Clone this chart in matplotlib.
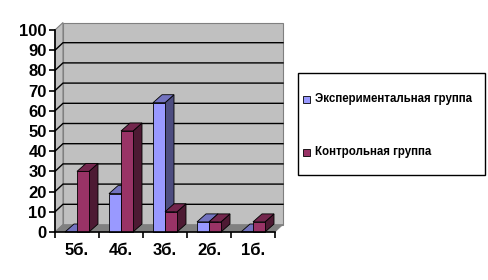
import matplotlib
matplotlib.use("Agg")
import matplotlib.pyplot as plt
from matplotlib.patches import Polygon, Rectangle

# данные
categories = ["5б.", "4б.", "3б.", "2б.", "1б."]
series_names = ["Экспериментальная группа", "Контрольная группа"]
exp_vals = [0, 19, 64, 5, 0]
ctrl_vals = [30, 50, 10, 5, 5]

front_cols = ["#9999FF", "#993366"]
top_cols = ["#7373BF", "#73264D"]
side_cols = ["#4D4D80", "#4D1A33"]

plt.rcParams['font.family'] = ['Liberation Sans', 'DejaVu Sans']

fig = plt.figure(figsize=(4.89, 2.80), dpi=100)
W, H = 489, 280
ax = fig.add_axes([55 / W, (280 - 232) / H, 220 / W, 202 / H])
ax.set_xlim(0, 5)
ax.set_ylim(0, 100)
ax.patch.set_alpha(0)

n = len(categories)
dx = 8 / 44      # глубина стенок
dy = 7.5 / 2.02
bdx = 9 / 44     # глубина столбиков
bdy = 8 / 2.02

# стенки
ax.add_patch(Polygon([(0, 0), (0, 100), (dx, 100 + dy), (dx, dy)], closed=True,
                     facecolor="#C0C0C0", edgecolor="#808080", lw=0.8, clip_on=False, zorder=0))
ax.add_patch(Rectangle((dx, dy), n, 100, facecolor="#C0C0C0", edgecolor="#808080",
                       lw=0.8, clip_on=False, zorder=0))
ax.add_patch(Polygon([(0, 0), (n, 0), (n + dx, dy), (dx, dy)], closed=True,
                     facecolor="#808080", edgecolor="#808080", lw=0.5, clip_on=False, zorder=0.5))
for v in range(10, 100, 10):
    ax.plot([0, dx, n + dx], [v, v + dy, v + dy], color="black", lw=1.0,
            clip_on=False, zorder=0.6)


def bar3d(x0, w, h, i):
    x1 = x0 + w
    ax.add_patch(Polygon([(x1, 0), (x1 + bdx, bdy), (x1 + bdx, h + bdy), (x1, h)],
                         closed=True, facecolor=side_cols[i], edgecolor="black", lw=0.6,
                         clip_on=False, zorder=2))
    ax.add_patch(Polygon([(x0, h), (x1, h), (x1 + bdx, h + bdy), (x0 + bdx, h + bdy)],
                         closed=True, facecolor=top_cols[i], edgecolor="black", lw=0.6,
                         clip_on=False, zorder=2))
    if h > 0:
        ax.add_patch(Rectangle((x0, 0), w, h, facecolor=front_cols[i], edgecolor="black",
                               lw=0.6, clip_on=False, zorder=2))


bw = 12 / 44
for k in range(n):
    bar3d(k + 10 / 44, bw, exp_vals[k], 0)
    bar3d(k + 10 / 44 + bw, bw, ctrl_vals[k], 1)

# оси
for s in ["top", "right"]:
    ax.spines[s].set_visible(False)
ax.spines["left"].set_zorder(3)
ax.spines["bottom"].set_zorder(3)
ax.spines["left"].set_linewidth(1.2)
ax.spines["bottom"].set_linewidth(1.2)
ax.set_yticks(range(0, 101, 10))
ax.tick_params(axis="y", direction="out", length=4, width=1.2, pad=2, labelsize=12)
ax.set_xticks(range(0, n + 1))
ax.set_xticklabels([])
ax.set_xticks([k + 0.5 for k in range(n)], minor=True)
ax.set_xticklabels(categories, minor=True)
ax.tick_params(axis="x", which="major", direction="out", length=4, width=1.2)
ax.tick_params(axis="x", which="minor", length=0, pad=8, labelsize=12)
for lab in ax.get_yticklabels() + ax.get_xticklabels(minor=True):
    lab.set_fontweight("bold")

# легенда
fig.patches.append(Rectangle((298 / W, 1 - 175 / H), 187 / W, 102 / H, transform=fig.transFigure,
                             facecolor="white", edgecolor="black", lw=1))
for name, col, yy in zip(series_names, front_cols, [99, 152]):
    fig.patches.append(Rectangle((303 / W, 1 - (yy + 3.5) / H), 7 / W, 7 / H,
                                 transform=fig.transFigure, facecolor=col,
                                 edgecolor="black", lw=0.6))
    fig.text(315 / W, 1 - yy / H, name, fontsize=8.3, fontweight="bold", va="center", ha="left")

fig.savefig("out.png", dpi=100)
